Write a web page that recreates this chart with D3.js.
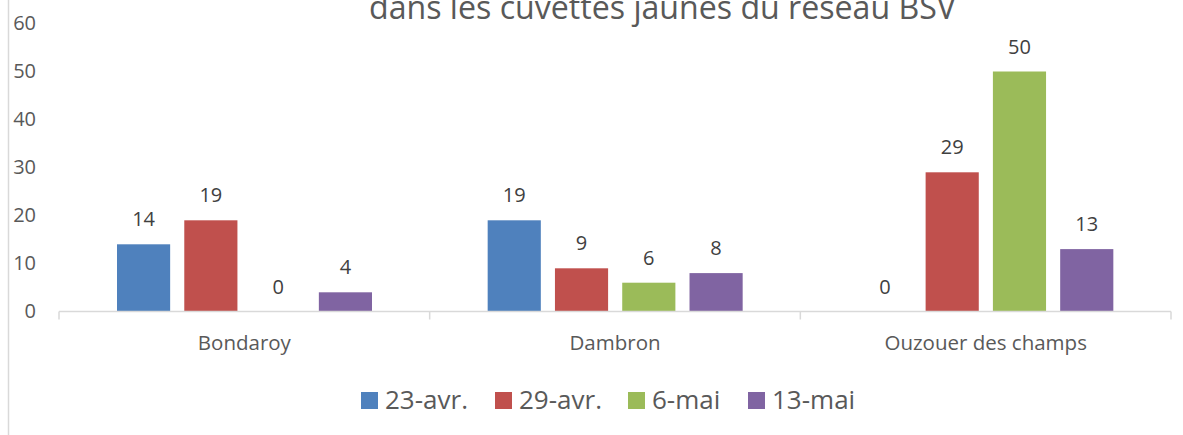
<!DOCTYPE html>
<html>
<head>
<meta charset="utf-8">
<script src="https://cdn.jsdelivr.net/npm/d3@7"></script>
<style>
  body { margin: 0; background: #fff; }
  svg { display: block; font-family: "Open Sans", sans-serif; }
</style>
</head>
<body>
<script>
const WIDTH = 1183;
const HEIGHT = 435;

var categories = ['Bondaroy', 'Dambron', 'Ouzouer des champs'];
var series = ['23-avr.', '29-avr.', '6-mai', '13-mai'];
var colors = ['#4F81BD', '#C0504D', '#9BBB59', '#8064A2'];
var values = [
    [14, 19, 0, 4],   // Bondaroy
    [19, 9, 6, 8],    // Dambron
    [0, 29, 50, 13]   // Ouzouer des champs
];
var yTicks = [0, 10, 20, 30, 40, 50, 60];
var titleText = 'dans les cuvettes jaunes du réseau BSV';

var svg = d3.select('body').append('svg')
    .attr('width', WIDTH)
    .attr('height', HEIGHT);

// chart border on the left
svg.append('line')
    .attr('x1', 8.5).attr('x2', 8.5)
    .attr('y1', 0).attr('y2', HEIGHT)
    .attr('stroke', '#d9d9d9')
    .attr('stroke-width', 1.5);

// title, second line only: the top of the chart is cropped in the picture
svg.append('text')
    .attr('x', 369)
    .attr('y', 19)
    .attr('textLength', 587)
    .attr('lengthAdjust', 'spacingAndGlyphs')
    .attr('font-size', 33)
    .attr('fill', '#595959')
    .text(titleText);

var xScale = d3.scaleBand()
    .domain(categories)
    .range([59, 1171]);

var inner = d3.scaleBand()
    .domain(series)
    .range([58, 313])
    .paddingInner(0.21);

var yScale = d3.scaleLinear()
    .domain([0, 60])
    .range([311.5, 23.5]);

// y axis, labels only
var yAxis = d3.axisLeft(yScale).tickValues(yTicks).tickSize(0).tickPadding(0);
svg.append('g')
    .attr('transform', 'translate(36,0)')
    .call(yAxis)
    .call(function (g) { g.select('.domain').remove(); })
    .selectAll('text')
    .attr('font-size', 20)
    .attr('font-family', '"Open Sans", sans-serif')
    .attr('fill', '#595959');

// bars
var groups = svg.selectAll('g.cat')
    .data(values)
    .enter()
    .append('g')
    .classed('cat', true)
    .attr('transform', function (d, i) { return 'translate(' + xScale(categories[i]) + ',0)'; });

groups.selectAll('rect')
    .data(function (d) { return d; })
    .enter()
    .append('rect')
    .attr('x', function (d, i) { return inner(series[i]); })
    .attr('width', inner.bandwidth())
    .attr('y', function (d) { return yScale(d); })
    .attr('height', function (d) { return yScale(0) - yScale(d); })
    .attr('fill', function (d, i) { return colors[i]; });

groups.selectAll('text.val')
    .data(function (d) { return d; })
    .enter()
    .append('text')
    .classed('val', true)
    .attr('x', function (d, i) { return inner(series[i]) + inner.bandwidth() / 2; })
    .attr('y', function (d) { return yScale(d) - 18; })
    .attr('text-anchor', 'middle')
    .attr('font-size', 20)
    .attr('fill', '#404040')
    .text(function (d) { return d; });

// x axis
var xAxis = d3.axisBottom(xScale).tickSize(0).tickPadding(0);
var xg = svg.append('g')
    .attr('transform', 'translate(0,' + yScale(0) + ')')
    .call(xAxis);
xg.select('.domain').attr('stroke', '#d9d9d9').attr('stroke-width', 1.5)
    .attr('d', 'M59,0H1171');
xg.selectAll('text')
    .attr('dy', null)
    .attr('y', 38)
    .attr('font-size', 20.5)
    .attr('font-family', '"Open Sans", sans-serif')
    .attr('fill', '#595959');

var bounds = categories.map(function (c) { return xScale(c); }).concat([xScale.range()[1]]);
xg.selectAll('line.sep')
    .data(bounds)
    .enter()
    .append('line')
    .classed('sep', true)
    .attr('x1', function (d) { return d; })
    .attr('x2', function (d) { return d; })
    .attr('y1', 0)
    .attr('y2', 8)
    .attr('stroke', '#d9d9d9')
    .attr('stroke-width', 1.5);

// legend
var legendX = [361, 495, 628, 748];
var legend = svg.selectAll('g.legend')
    .data(series)
    .enter()
    .append('g')
    .classed('legend', true)
    .attr('transform', function (d, i) { return 'translate(' + legendX[i] + ',0)'; });

legend.append('rect')
    .attr('x', 0).attr('y', 392)
    .attr('width', 17).attr('height', 17)
    .attr('fill', function (d, i) { return colors[i]; });

legend.append('text')
    .attr('x', 24)
    .attr('y', 409)
    .attr('font-size', 26)
    .attr('fill', '#595959')
    .text(function (d) { return d; });
</script>
</body>
</html>
